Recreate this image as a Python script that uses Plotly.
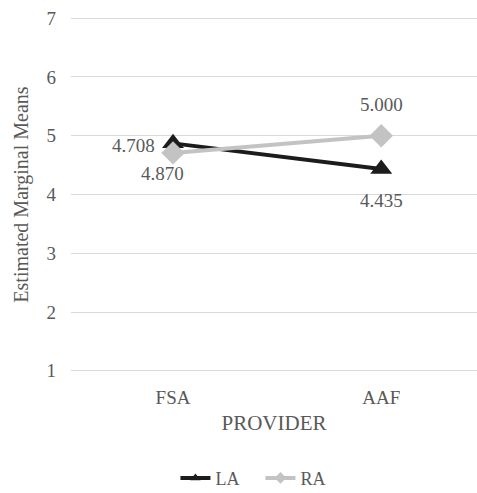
import plotly.graph_objects as go

providers = ["FSA", "AAF"]
la_means = [4.870, 4.435]
ra_means = [4.708, 5.000]
y_ticks = [1, 2, 3, 4, 5, 6, 7]

label_color = "#595959"
serif = "Liberation Serif, Times New Roman, serif"
la_color = "#1c1c1c"
ra_color = "#c3c3c3"

fig = go.Figure()
fig.add_trace(go.Scatter(
    x=providers, y=la_means, name="LA", showlegend=False,
    mode="lines+markers",
    line=dict(color=la_color, width=4),
    marker=dict(symbol="triangle-up", size=19, color=la_color),
))
fig.add_trace(go.Scatter(
    x=providers, y=ra_means, name="RA", showlegend=False,
    mode="lines+markers",
    line=dict(color=ra_color, width=4),
    marker=dict(symbol="diamond", size=18, color=ra_color),
))

# legend entries with small markers
for name, color, sym in (("LA", la_color, "triangle-up"), ("RA", ra_color, "diamond")):
    fig.add_trace(go.Scatter(
        x=[None], y=[None], name=name, mode="lines+markers",
        line=dict(color=color, width=4),
        marker=dict(symbol=sym, size=9, color=color),
    ))

# value labels placed beside each point (pixel offsets per point)
label_offsets = {
    "LA": [(-11, -30), (0, -32)],
    "RA": [(-40, 7), (0, 31)],
}
for name, vals in (("LA", la_means), ("RA", ra_means)):
    for cat, v, (dx, dy) in zip(providers, vals, label_offsets[name]):
        fig.add_annotation(
            x=cat, y=v, text=f"{v:.3f}", showarrow=False,
            xshift=dx, yshift=dy,
            font=dict(family=serif, size=19, color=label_color),
        )

fig.update_layout(
    width=477, height=493,
    margin=dict(l=71, r=0, t=17, b=121),
    paper_bgcolor="white", plot_bgcolor="white",
    font=dict(family=serif, size=19, color=label_color),
    showlegend=True,
    legend=dict(orientation="h", xref="container", yref="container",
                x=0.546, xanchor="center", y=0.03, yanchor="middle",
                font=dict(family=serif, size=18, color=label_color),
                itemwidth=30, entrywidth=40, entrywidthmode="pixels"),
    xaxis=dict(
        type="category", range=[-0.49, 1.46],
        showgrid=False, showline=False, zeroline=False, ticks="",
        ticklabelstandoff=12,
        tickfont=dict(family=serif, size=19, color=label_color),
        title=dict(text="PROVIDER", font=dict(family=serif, size=21, color=label_color), standoff=8),
    ),
    yaxis=dict(
        range=[0.98, 7.02], tickvals=y_ticks,
        showgrid=True, gridcolor="#d9d9d9", gridwidth=1.3,
        showline=False, zeroline=False, ticks="",
        ticklabelstandoff=14,
        tickfont=dict(family=serif, size=19, color=label_color),
        title=dict(text="Estimated Marginal Means", font=dict(family=serif, size=20, color=label_color), standoff=12),
    ),
)

fig.write_html("out.html")
